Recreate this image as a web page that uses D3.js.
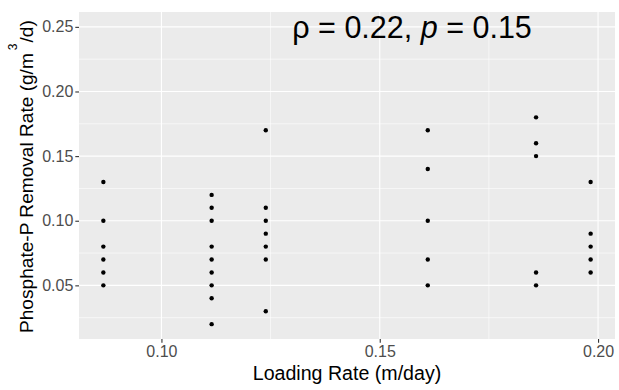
<!DOCTYPE html>
<html>
<head>
<meta charset="utf-8">
<script src="https://cdn.jsdelivr.net/npm/d3@7"></script>
<style>
  body { margin: 0; background: #fff; }
  text { font-family: "Liberation Sans", Arial, sans-serif; }
</style>
</head>
<body>
<svg width="619" height="390"></svg>
<script>
// loading rate groups (m/day) and the removal rates measured at each
const loadingRates = [0.0867, 0.1115, 0.1239, 0.1610, 0.1858, 0.1983]
const removalRates = [
  [0.13, 0.10, 0.08, 0.07, 0.06, 0.05],
  [0.12, 0.11, 0.10, 0.08, 0.07, 0.06, 0.05, 0.04, 0.02],
  [0.17, 0.11, 0.10, 0.09, 0.08, 0.07, 0.03],
  [0.17, 0.14, 0.10, 0.07, 0.05],
  [0.18, 0.16, 0.15, 0.06, 0.05],
  [0.13, 0.09, 0.08, 0.07, 0.06]
]
const xTicks = [0.10, 0.15, 0.20]
const yTicks = [0.05, 0.10, 0.15, 0.20, 0.25]
const xMinor = [0.125, 0.175]
const yMinor = [0.025, 0.075, 0.125, 0.175, 0.225]

const data = []
loadingRates.forEach((x, i) => {
  removalRates[i].forEach(y => data.push({x: x, y: y}))
})

const svg = d3.select('svg')
const margin = {top: 12, right: 4, bottom: 51, left: 79}
const innerWidth = +svg.attr('width') - margin.left - margin.right
const innerHeight = +svg.attr('height') - margin.top - margin.bottom

// ggplot style 5% expansion, y range also covers the label at 0.25
const xExt = d3.extent(data, d => d.x)
const yExt = [0.02, 0.25]
const xPad = (xExt[1] - xExt[0]) * 0.05
const yPad = (yExt[1] - yExt[0]) * 0.05

const xScale = d3.scaleLinear()
  .domain([xExt[0] - xPad, xExt[1] + xPad])
  .range([0, innerWidth])
const yScale = d3.scaleLinear()
  .domain([yExt[0] - yPad, yExt[1] + yPad])
  .range([innerHeight, 0])

const g = svg.append('g')
  .attr('transform', `translate(${margin.left},${margin.top})`)

g.append('rect')
  .attr('width', innerWidth)
  .attr('height', innerHeight)
  .attr('fill', '#EBEBEB')

// minor grid
g.selectAll('.ymin').data(yMinor).enter().append('line')
  .attr('x1', 0).attr('x2', innerWidth)
  .attr('y1', d => yScale(d)).attr('y2', d => yScale(d))
  .attr('stroke', '#fff').attr('stroke-width', 0.6)
g.selectAll('.xmin').data(xMinor).enter().append('line')
  .attr('y1', 0).attr('y2', innerHeight)
  .attr('x1', d => xScale(d)).attr('x2', d => xScale(d))
  .attr('stroke', '#fff').attr('stroke-width', 0.6)

// major grid
g.selectAll('.ymaj').data(yTicks).enter().append('line')
  .attr('x1', 0).attr('x2', innerWidth)
  .attr('y1', d => yScale(d)).attr('y2', d => yScale(d))
  .attr('stroke', '#fff').attr('stroke-width', 1.1)
g.selectAll('.xmaj').data(xTicks).enter().append('line')
  .attr('y1', 0).attr('y2', innerHeight)
  .attr('x1', d => xScale(d)).attr('x2', d => xScale(d))
  .attr('stroke', '#fff').attr('stroke-width', 1.1)

// axes
const xAxis = d3.axisBottom(xScale).tickValues(xTicks)
  .tickFormat(d3.format('.2f')).tickSizeOuter(0).tickSize(3.7).tickPadding(3)
const yAxis = d3.axisLeft(yScale).tickValues(yTicks)
  .tickFormat(d3.format('.2f')).tickSizeOuter(0).tickSize(3.7).tickPadding(2)

const gx = g.append('g')
  .attr('transform', `translate(0,${innerHeight})`)
  .call(xAxis)
const gy = g.append('g').call(yAxis)

;[gx, gy].forEach(a => {
  a.select('.domain').remove()
  a.selectAll('line').attr('stroke', '#333333').attr('stroke-width', 1.1)
  a.selectAll('text').attr('fill', '#4D4D4D')
    .style('font-size', '16px')
    .style('font-family', '"Liberation Sans", Arial, sans-serif')
})

// points
g.selectAll('circle').data(data).enter().append('circle')
  .attr('cx', d => xScale(d.x))
  .attr('cy', d => yScale(d.y))
  .attr('r', 2.2)
  .attr('fill', '#000')

// correlation label
const label = g.append('text')
  .attr('x', xScale(0.1574))
  .attr('y', yScale(0.25) + 11)
  .attr('text-anchor', 'middle')
  .style('font-size', '30.5px')
  .attr('fill', '#000')
label.append('tspan').text('ρ = 0.22, ')
label.append('tspan').style('font-style', 'italic').text('p')
label.append('tspan').text(' = 0.15')

// axis titles
svg.append('text')
  .attr('x', margin.left + innerWidth / 2)
  .attr('y', 380)
  .attr('text-anchor', 'middle')
  .style('font-size', '19.6px')
  .text('Loading Rate (m/day)')

const yTitle = svg.append('text')
  .attr('transform', 'translate(32.5,333) rotate(-90)')
  .attr('text-anchor', 'start')
  .style('font-size', '19.1px')
yTitle.append('tspan').text('Phosphate-P Removal Rate (g/m')
yTitle.append('tspan').attr('dx', 3).attr('dy', -16).style('font-size', '12px').text('3')
yTitle.append('tspan').attr('dx', 1).attr('dy', 16).text('/d)')
</script>
</body>
</html>
